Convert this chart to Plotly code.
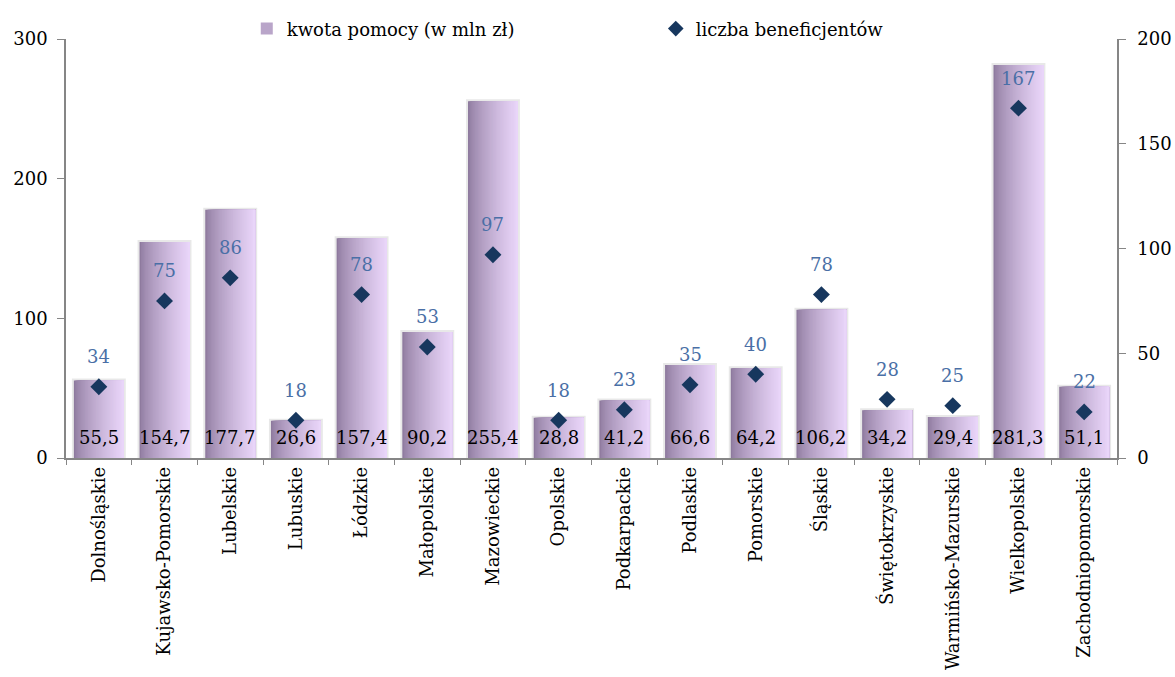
import plotly.graph_objects as go

# województwa
regions = ["Dolnośląskie", "Kujawsko-Pomorskie", "Lubelskie", "Lubuskie", "Łódzkie",
           "Małopolskie", "Mazowieckie", "Opolskie", "Podkarpackie", "Podlaskie",
           "Pomorskie", "Śląskie", "Świętokrzyskie", "Warmińsko-Mazurskie",
           "Wielkopolskie", "Zachodniopomorskie"]
kwota = [55.5, 154.7, 177.7, 26.6, 157.4, 90.2, 255.4, 28.8, 41.2, 66.6,
         64.2, 106.2, 34.2, 29.4, 281.3, 51.1]
beneficjenci = [34, 75, 86, 18, 78, 53, 97, 18, 23, 35, 40, 78, 28, 25, 167, 22]

FONT = "DejaVu Serif"
FS = 18
dark = (142, 122, 158)
light = (233, 213, 249)
bw = 0.76
n_slices = 36

fig = go.Figure()

# soft halo behind the bars
fig.add_trace(go.Bar(x=regions, y=kwota, width=bw, offset=-bw / 2,
                     marker=dict(color="rgba(0,0,0,0)",
                                 line=dict(color="rgba(0,0,0,0.09)", width=4)),
                     showlegend=False, hoverinfo="skip"))

# horizontal gradient: stacked slices, each one from its start to the right edge
for i in range(n_slices):
    t = (i / (n_slices - 1)) ** 0.7
    c = tuple(round(dark[k] + (light[k] - dark[k]) * t) for k in range(3))
    start = -bw / 2 + i * bw / n_slices
    fig.add_trace(go.Bar(
        x=regions, y=kwota, offset=start, width=bw / 2 - start,
        marker=dict(color="rgb(%d,%d,%d)" % c, line=dict(width=0)),
        name="kwota pomocy (w mln zł)", showlegend=(i == n_slices // 3),
        hoverinfo="skip"))

fig.add_trace(go.Scatter(
    x=regions, y=beneficjenci, yaxis="y2", mode="markers",
    marker=dict(symbol="diamond", size=13, color="#17375e"),
    name="liczba beneficjentów"))

for r, v in zip(regions, kwota):
    fig.add_annotation(x=r, y=0, yref="y", text=("%.1f" % v).replace(".", ","),
                       showarrow=False, yshift=21,
                       font=dict(family=FONT, size=FS, color="black"))
for r, v in zip(regions, beneficjenci):
    fig.add_annotation(x=r, y=v, yref="y2", text=str(v), showarrow=False,
                       yshift=30, font=dict(family=FONT, size=FS, color="#4a6fa6"))

axis_common = dict(showline=True, linecolor="#868686", linewidth=1.5,
                   ticks="outside", tickcolor="#868686", showgrid=False,
                   zeroline=False, tickfont=dict(family=FONT, size=FS))

fig.update_layout(
    width=1175, height=677,
    margin=dict(l=66, r=58, t=39, b=219, autoexpand=False),
    paper_bgcolor="white", plot_bgcolor="white",
    barmode="overlay",
    font=dict(family=FONT, size=FS, color="black"),
    showlegend=True,
    legend=dict(orientation="h", x=0.172, xanchor="left", y=0.98, yanchor="bottom",
                entrywidth=364, entrywidthmode="pixels",
                font=dict(family=FONT, size=FS), itemsizing="constant"),
    xaxis=dict(type="category", tickson="boundaries", ticklen=5, tickangle=-90,
               range=[-0.5, len(regions) - 0.5], **axis_common),
    yaxis=dict(range=[0, 300], dtick=100, ticklen=7, ticklabelstandoff=6,
               **axis_common),
    yaxis2=dict(range=[0, 200], dtick=50, overlaying="y", side="right",
                ticklen=7, ticklabelstandoff=8, **axis_common),
)

# drop the default 8px page margin so the figure fills the window
fig.write_html("out.html", config={"displayModeBar": False},
               post_script="document.body.style.margin='0';")
